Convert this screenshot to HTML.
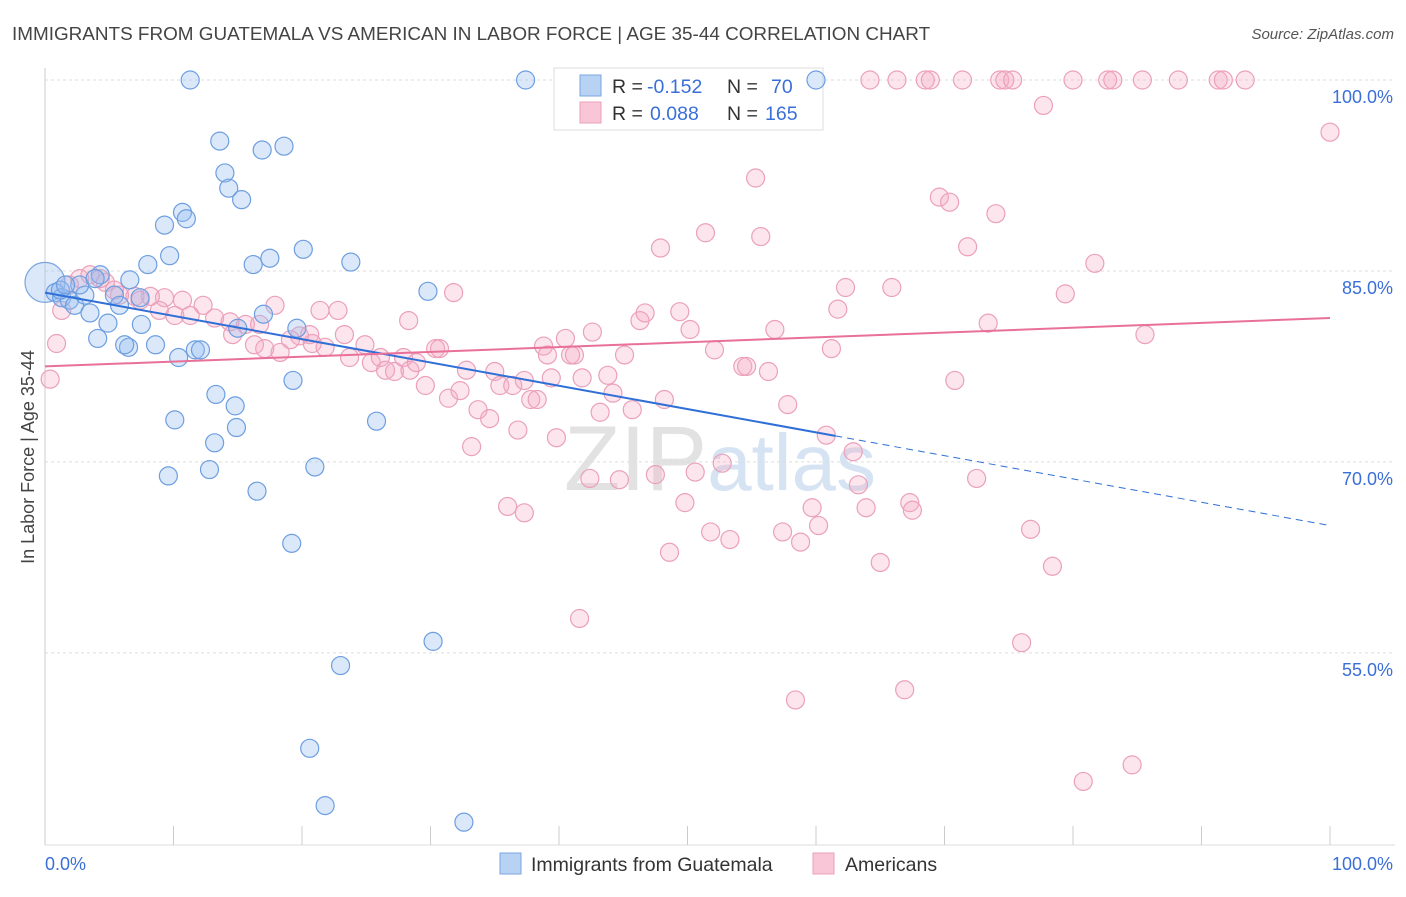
<!DOCTYPE html>
<html><head><meta charset="utf-8">
<style>
html,body{margin:0;padding:0;background:#fff;}
body{width:1406px;height:892px;overflow:hidden;font-family:"Liberation Sans",sans-serif;}
svg text{font-family:"Liberation Sans",sans-serif;}
</style></head>
<body>
<svg id="chart" width="1406" height="892" viewBox="0 0 1406 892" xmlns="http://www.w3.org/2000/svg">
<text x="12" y="40" font-size="18.9" fill="#444">IMMIGRANTS FROM GUATEMALA VS AMERICAN IN LABOR FORCE | AGE 35-44 CORRELATION CHART</text>
<text x="1394" y="39" font-size="15" fill="#555" font-style="italic" text-anchor="end">Source: ZipAtlas.com</text>
<text x="720" y="490" font-size="92" fill="#e8eaf0" text-anchor="middle" font-family="Liberation Serif, serif"><tspan fill="#e2e2e2">ZIP</tspan><tspan fill="#d6e3f3" font-family="Liberation Sans, sans-serif" font-size="80">atlas</tspan></text>
<g id="grid"></g>
<g id="axes"></g>
<g>
<rect x="554" y="68" width="269" height="62" fill="#fff" stroke="#ddd"/>
<rect x="580" y="75" width="21" height="21" fill="#b8d2f4" stroke="#7aa6e0"/>
<rect x="580" y="102" width="21" height="21" fill="#f8c6d6" stroke="#eaa0ba"/>
<text x="612" y="93" font-size="19.5" fill="#333">R =</text>
<text x="647" y="93" font-size="19.5" fill="#3a6fd8">-0.152</text>
<text x="727" y="93" font-size="19.5" fill="#333">N =</text>
<text x="771" y="93" font-size="19.5" fill="#3a6fd8">70</text>
<text x="612" y="120" font-size="19.5" fill="#333">R =</text>
<text x="650" y="120" font-size="19.5" fill="#3a6fd8">0.088</text>
<text x="727" y="120" font-size="19.5" fill="#333">N =</text>
<text x="765" y="120" font-size="19.5" fill="#3a6fd8">165</text>
</g>
<g id="pinkPts"></g>
<g id="bluePts"></g>
<g id="trends"></g>
<text transform="translate(34,457) rotate(-90)" font-size="18" fill="#444" text-anchor="middle">In Labor Force | Age 35-44</text>
<g>
<rect x="500" y="853" width="21" height="21" fill="#b8d2f4" stroke="#7aa6e0"/>
<text x="531" y="871" font-size="19.5" fill="#333">Immigrants from Guatemala</text>
<rect x="813" y="853" width="21" height="21" fill="#f8c6d6" stroke="#eaa0ba"/>
<text x="845" y="871" font-size="19.5" fill="#333">Americans</text>
</g>
</svg>
<script>
const yTicks=[100,85,70,55];
const yTickLabels=["100.0%","85.0%","70.0%","55.0%"];
const xTickCount=10;
const blueData=[[11.3,100],[37.4,100],[60,100],[13.6,95.2],[14,92.7],[14.3,91.5],[15.3,90.6],[16.9,94.5],[18.6,94.8],[9.3,88.6],[10.7,89.6],[11,89.1],[9.7,86.2],[8,85.5],[16.2,85.5],[17.5,86],[20.1,86.7],[23.8,85.7],[29.8,83.4],[0.8,83.3],[1.3,82.9],[1.9,82.7],[2.3,82.3],[3.1,83.1],[3.5,81.7],[4.3,84.7],[4.9,80.9],[5.4,83.1],[5.8,82.3],[6.6,84.3],[7.4,82.9],[7.5,80.8],[6.5,79],[6.2,79.2],[4.1,79.7],[8.6,79.2],[10.4,78.2],[11.7,78.8],[12.1,78.8],[15,80.5],[17,81.6],[19.6,80.5],[19.3,76.4],[13.3,75.3],[14.8,74.4],[14.9,72.7],[10.1,73.3],[13.2,71.5],[12.8,69.4],[9.6,68.9],[16.5,67.7],[21,69.6],[25.8,73.2],[19.2,63.6],[30.2,55.9],[23,54],[20.6,47.5],[21.8,43],[32.6,41.7],[1.2,83.5],[2.7,83.9],[3.9,84.4],[1.6,83.9]];
const blueBig=[0,84.1];
const pinkData=[[64.2,100],[66.3,100],[68.5,100],[68.9,100],[71.4,100],[74.3,100],[74.7,100],[75.3,100],[80,100],[82.7,100],[83.1,100],[85.4,100],[88.2,100],[91.3,100],[91.7,100],[93.4,100],
[77.7,98],[100,95.9],[55.3,92.3],[69.6,90.8],[70.4,90.4],[74,89.5],[47.9,86.8],[51.4,88],[55.7,87.7],[71.8,86.9],[81.7,85.6],[62.3,83.7],[65.9,83.7],[79.4,83.2],[61.7,82],[73.4,80.9],[85.6,80],[31.8,83.3],[28.3,81.1],[21.4,81.9],[22.8,81.9],[17.9,82.3],[12.3,82.3],[10.7,82.7],[9.3,82.9],[8.2,83],[7,83],[5.8,83.1],[4.7,84.1],[3.5,84.7],[2.7,84.4],[1.9,83.9],[1.3,81.9],[0.9,79.3],[0.4,76.5],[4.3,84.4],[5.4,83.5],[7.4,82.7],[8.9,81.9],[10.1,81.5],[11.3,81.5],[13.2,81.3],[14.4,81],[15.6,80.8],[16.3,79.2],[17.1,78.9],[18.3,78.6],[19.1,79.6],[19.8,79.9],[20.8,79.3],[21.8,79],[23.3,80],[23.7,78.2],[24.9,79.2],[25.4,77.8],[26.1,78.2],[26.5,77.2],[27.2,77.1],[27.9,78.2],[28.4,77.2],[28.9,77.8],[29.6,76],[30.4,78.9],[30.7,78.9],[31.4,75],[32.3,75.6],[32.8,77.2],[33.2,71.2],[33.7,74.1],[34.6,73.4],[35,77.1],[35.4,76],[36.4,76],[36.8,72.5],[37.3,76.4],[37.8,74.9],[38.3,74.9],[38.8,79.1],[39.1,78.4],[39.4,76.6],[39.8,71.9],[40.5,79.7],[40.9,78.4],[41.2,78.4],[41.8,76.6],[42.6,80.2],[43.2,73.9],[43.8,76.8],[44.2,75.4],[44.7,68.6],[45.1,78.4],[45.7,74.1],[46.3,81.1],[46.7,81.7],[47.5,69],[48.2,74.9],[48.6,62.9],[49.4,81.8],[49.8,66.8],[50.2,80.4],[50.6,69.2],[51.8,64.5],[52.1,78.8],[52.7,69.9],[53.3,63.9],[54.3,77.5],[54.6,77.5],[56.3,77.1],[56.8,80.4],[57.4,64.5],[57.8,74.5],[58.8,63.7],[59.7,66.4],[60.2,65],[60.8,72.1],[61.2,78.9],[62.9,70.8],[63.3,68.2],[63.9,66.4],[65,62.1],[66.9,52.1],[67.3,66.8],[67.5,66.2],[70.8,76.4],[72.5,68.7],[76,55.8],[76.7,64.7],[78.4,61.8],[80.8,44.9],[84.6,46.2],[58.4,51.3],[41.6,57.7],[36,66.5],[37.3,66],[42.4,68.7],[20.6,80],[16.7,80.8],[14.6,80]];
const blueTrend=[83.3,65.0];
const blueSolidEnd=61.5;
const pinkTrend=[77.5,81.3];

const NS="http://www.w3.org/2000/svg";
const X0=45,X1=1330;
const xs=v=>X0+(X1-X0)*v/100;
const ys=v=>80+(100-v)*12.73;
function mk(tag,attrs,parent){const e=document.createElementNS(NS,tag);for(const k in attrs)e.setAttribute(k,attrs[k]);parent.appendChild(e);return e;}
const grid=document.getElementById('grid'),axes=document.getElementById('axes');
yTicks.forEach((t,i)=>{
  const l=mk('line',{x1:45,x2:1395,y1:ys(t),y2:ys(t),stroke:'#ddd','stroke-dasharray':'3,3'},grid);
  
  
  const tx=mk('text',{x:1393,y:ys(t)+23,'font-size':18,fill:'#3a6fd8','text-anchor':'end'},axes);
  tx.textContent=yTickLabels[i];
  
  
});
const ax=mk('line',{x1:45,x2:45,y1:68,y2:845,stroke:'#ccc'},axes);


const bx=mk('line',{x1:45,x2:1395,y1:845,y2:845,stroke:'#ddd'},axes);


for(let i=0;i<=xTickCount;i++){
  const tk=mk('line',{x1:xs(i*10),x2:xs(i*10),y1:826,y2:845,stroke:'#ccc'},axes);
  
  
}
const xl0=mk('text',{x:45,y:870,'font-size':18,fill:'#3a6fd8'},axes);xl0.textContent='0.0%';


const xl1=mk('text',{x:1393,y:870,'font-size':18,fill:'#3a6fd8','text-anchor':'end'},axes);xl1.textContent='100.0%';



const pg=document.getElementById('pinkPts');
pinkData.forEach(d=>{
  const c=mk('circle',{cx:xs(d[0]),cy:ys(d[1]),r:9,fill:'rgba(244,170,196,0.3)',stroke:'#eba0bb','stroke-width':1.2},pg);
  
  
});
const bg=document.getElementById('bluePts');
const big=mk('circle',{cx:xs(blueBig[0]),cy:ys(blueBig[1]),r:20,fill:'rgba(150,190,240,0.35)',stroke:'#7aa6e0','stroke-width':1.2},bg);


blueData.forEach(d=>{
  const c=mk('circle',{cx:xs(d[0]),cy:ys(d[1]),r:9,fill:'rgba(150,190,240,0.35)',stroke:'#6d9ee0','stroke-width':1.2},bg);
  
  
});
const tg=document.getElementById('trends');
const bAt=v=>blueTrend[0]+(blueTrend[1]-blueTrend[0])*v/100;
const bs=mk('line',{x1:xs(0),y1:ys(bAt(0)),x2:xs(blueSolidEnd),y2:ys(bAt(blueSolidEnd)),stroke:'#2f6fd6','stroke-width':2},tg);


const bd=mk('line',{x1:xs(blueSolidEnd),y1:ys(bAt(blueSolidEnd)),x2:xs(100),y2:ys(bAt(100)),stroke:'#2f6fd6','stroke-width':1,'stroke-dasharray':'7,5'},tg);


const pl=mk('line',{x1:xs(0),y1:ys(pinkTrend[0]),x2:xs(100),y2:ys(pinkTrend[1]),stroke:'#e8709a','stroke-width':2},tg);


</script>
</body></html>
